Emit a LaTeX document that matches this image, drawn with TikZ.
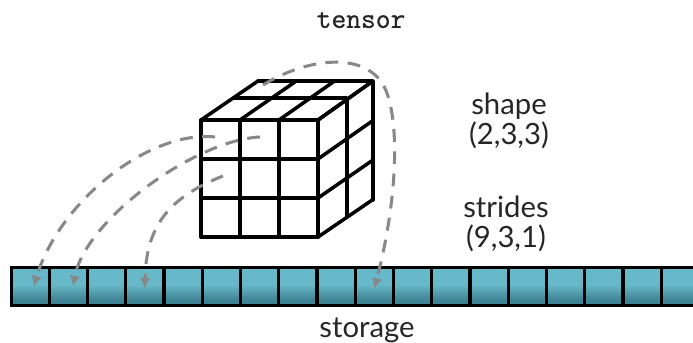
\documentclass[tikz,border=0pt]{standalone}
\usepackage{fontspec}
\setmainfont{Lato}
\setmonofont[FakeBold=0.7]{Latin Modern Mono}
\usetikzlibrary{arrows.meta}
\definecolor{cellblue}{HTML}{67B8C8}
\definecolor{celldark}{HTML}{3E8393}
\definecolor{linkgray}{HTML}{888888}
\pgfdeclareverticalshading{cellshade}{100bp}{color(0bp)=(celldark); color(32bp)=(celldark); color(52bp)=(cellblue); color(100bp)=(cellblue)}
\tikzset{
  edge/.style={line width=3pt, line join=round, line cap=round},
  cellbox/.style={draw, line width=2.6pt, minimum width=32.5mm/2.84, minimum height=11.3mm,
    inner sep=0pt, anchor=north west, shading=cellshade},
  link/.style={draw=linkgray, line width=2.6pt, dash pattern=on 11pt off 8pt, -{Latex[length=9pt,width=9pt]}},
  lbl/.style={font=\fontsize{25}{26}\selectfont, align=center, text=black!85}
}
\begin{document}
\begin{tikzpicture}[x=0.3mm,y=-0.3mm]
\useasboundingbox (0,0) rectangle (693,343);
% storage
\foreach \i in {0,...,17}
  \node[cellbox] (s\i) at ({9.5+38.25*\i},266) {};
% front face
\foreach \i in {0,...,3} {
  \draw[edge] ({201+39*\i},120) -- ({201+39*\i},237);
  \draw[edge] (201,{120+39*\i}) -- (318,{120+39*\i});
  % top and right faces
  \draw[edge] ({201+39*\i},120) -- ({258+38.3*\i},81);
  \draw[edge] (318,{120+39*\i}) -- (373,{81+39.5*\i});
}
\draw[edge] (258,81) -- (373,81) -- (373,200);
\draw[edge] (234,98) -- (347,98) -- (347,216);
% labels
\node[lbl, font=\fontsize{24.5}{26}\selectfont\ttfamily] (tensor) at (361,20) {tensor};
\node[lbl] (shape) at (509,121) {shape\\(2,3,3)};
\node[lbl] (strides) at (506,224) {strides\\(9,3,1)};
\node[lbl, inner sep=0pt] (storage) at (367,330) {storage};
% links
\coordinate (a) at (215,137);
\coordinate (b) at (260,137);
\coordinate (c) at (223,176);
\coordinate (d) at (263,85);
\coordinate (e) at (380,80);
\draw[link] (a) .. controls (150,130) and (60,200) .. ([xshift=3pt]s0.center);
\draw[link] (b) .. controls (195,140) and (85,220) .. ([xshift=4pt]s1.center);
\draw[link] (c) .. controls (170,197) and (146,225) .. ([yshift=-2pt]s3.center);
\draw[link] (d) .. controls (300,62) and (355,50) .. (e) .. controls (400,105) and (400,190) .. ([yshift=-2pt]s9.center);
\end{tikzpicture}
\end{document}
